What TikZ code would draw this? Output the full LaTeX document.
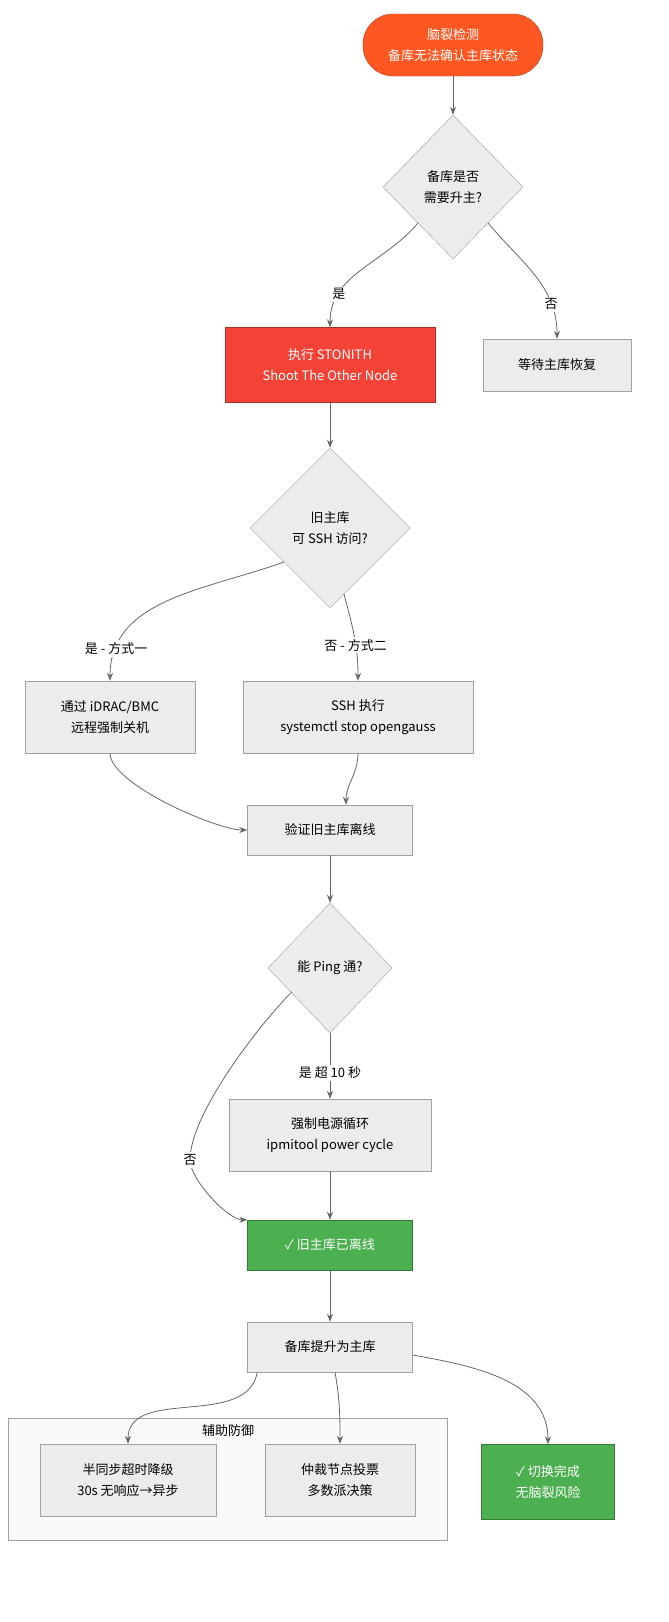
\documentclass[tikz,border=0pt]{standalone}
\usepackage{fontspec}
\setmainfont{Noto Sans CJK SC}
\usetikzlibrary{shapes.geometric,arrows.meta}
\definecolor{boxfill}{HTML}{ECECEC}
\definecolor{boxline}{HTML}{A0A0A0}
\definecolor{stopred}{HTML}{F44336}
\definecolor{startorange}{HTML}{FF5722}
\definecolor{okgreen}{HTML}{4CAF50}
\definecolor{edgegray}{HTML}{666666}
\tikzset{
  box/.style={draw=boxline,fill=boxfill,align=center,font=\fontsize{13}{21}\selectfont,inner sep=0pt},
  choice/.style={draw=boxline,fill=boxfill,diamond,aspect=1,align=center,font=\fontsize{13}{21}\selectfont,inner sep=0pt},
  arr/.style={draw=edgegray,-{Stealth[length=8pt,width=6pt]},line width=0.8pt},
  lbl/.style={fill=white,font=\fontsize{13}{16}\selectfont,inner sep=2pt}
}
\begin{document}
\begin{tikzpicture}[x=1pt,y=-1pt]
\useasboundingbox (0,0) rectangle (669,1622);
\draw[fill=black!2,draw=boxline] (8,1418) rectangle (447,1540);
\node[font=\fontsize{13}{16}\selectfont] (aux) at (228,1431) {辅助防御};

\node[box,draw=startorange!70!black,fill=startorange,text=white,rounded corners=30pt,minimum width=180pt,minimum height=62pt] (start) at (453,45) {脑裂检测\\备库无法确认主库状态};
\node[choice,minimum width=140pt,minimum height=144pt] (ask) at (453,187) {备库是否\\需要升主?};
\node[box,fill=stopred,draw=stopred!70!black,text=white,minimum width=210pt,minimum height=75pt] (stonith) at (330,365) {执行 STONITH\\Shoot The Other Node};
\node[box,minimum width=148pt,minimum height=52pt] (wait) at (557,365) {等待主库恢复};
\node[choice,minimum width=160pt,minimum height=160pt] (ssh) at (330,528) {旧主库\\可 SSH 访问?};
\node[box,minimum width=170pt,minimum height=72pt] (idrac) at (110,717) {通过 iDRAC/BMC\\远程强制关机};
\node[box,minimum width=230pt,minimum height=72pt] (sshstop) at (358,717) {SSH 执行\\systemctl stop opengauss};
\node[box,minimum width=165pt,minimum height=50pt] (verify) at (330,830) {验证旧主库离线};
\node[choice,minimum width=124pt,minimum height=130pt] (ping) at (330,968) {能 Ping 通?};
\node[box,minimum width=202pt,minimum height=72pt] (power) at (330,1135) {强制电源循环\\ipmitool power cycle};
\node[box,fill=okgreen,draw=okgreen!70!black,text=white,minimum width=165pt,minimum height=50pt] (offline) at (330,1245) {✓ 旧主库已离线};
\node[box,minimum width=165pt,minimum height=50pt] (promote) at (330,1347) {备库提升为主库};
\node[box,minimum width=176pt,minimum height=72pt] (semi) at (128,1480) {半同步超时降级\\30s 无响应→异步};
\node[box,minimum width=150pt,minimum height=72pt] (arb) at (340,1480) {仲裁节点投票\\多数派决策};
\node[box,fill=okgreen,draw=okgreen!70!black,text=white,minimum width=133pt,minimum height=75pt] (done) at (548,1482) {✓ 切换完成\\无脑裂风险};

\draw[arr] (start) -- (ask);
\draw[arr] (ask.south west) to[out=-130,in=90] node[lbl,pos=0.75] {是} (stonith);
\draw[arr] (ask.south east) to[out=-50,in=90] node[lbl,pos=0.75] {否} (wait);
\draw[arr] (stonith) -- (ssh);
\draw[arr] (ssh.west) ++(34,34) to[out=-160,in=90] node[lbl,pos=0.85] {是 - 方式一} (idrac);
\draw[arr] (ssh.south) ++(14,-14) to[out=-75,in=90] node[lbl,pos=0.6] {否 - 方式二} (sshstop);
\draw[arr] (idrac) to[out=-90,in=180,looseness=0.5] (verify.west);
\draw[arr] (sshstop) to[out=-90,in=90] (verify.north -| 346,0);
\draw[arr] (verify) -- (ping);
\draw[arr] (ping) -- node[lbl,pos=0.6] {是 超 10 秒} (power);
\draw[arr] (ping.west) ++(24,24) to[out=-135,in=90,looseness=0.6] (190,1160) node[lbl] {否} to[out=-90,in=180,looseness=0.6] (offline.north west);
\draw[arr] (power) -- (offline);
\draw[arr] (offline) -- (promote);
\draw[arr] (promote.south west) ++(10,0) to[out=-100,in=90] (semi);
\draw[arr] (promote.south) ++(5,0) to[out=-80,in=90] (arb);
\draw[arr] (promote.east) ++(0,8) to[out=-10,in=90] (done);
\end{tikzpicture}
\end{document}
